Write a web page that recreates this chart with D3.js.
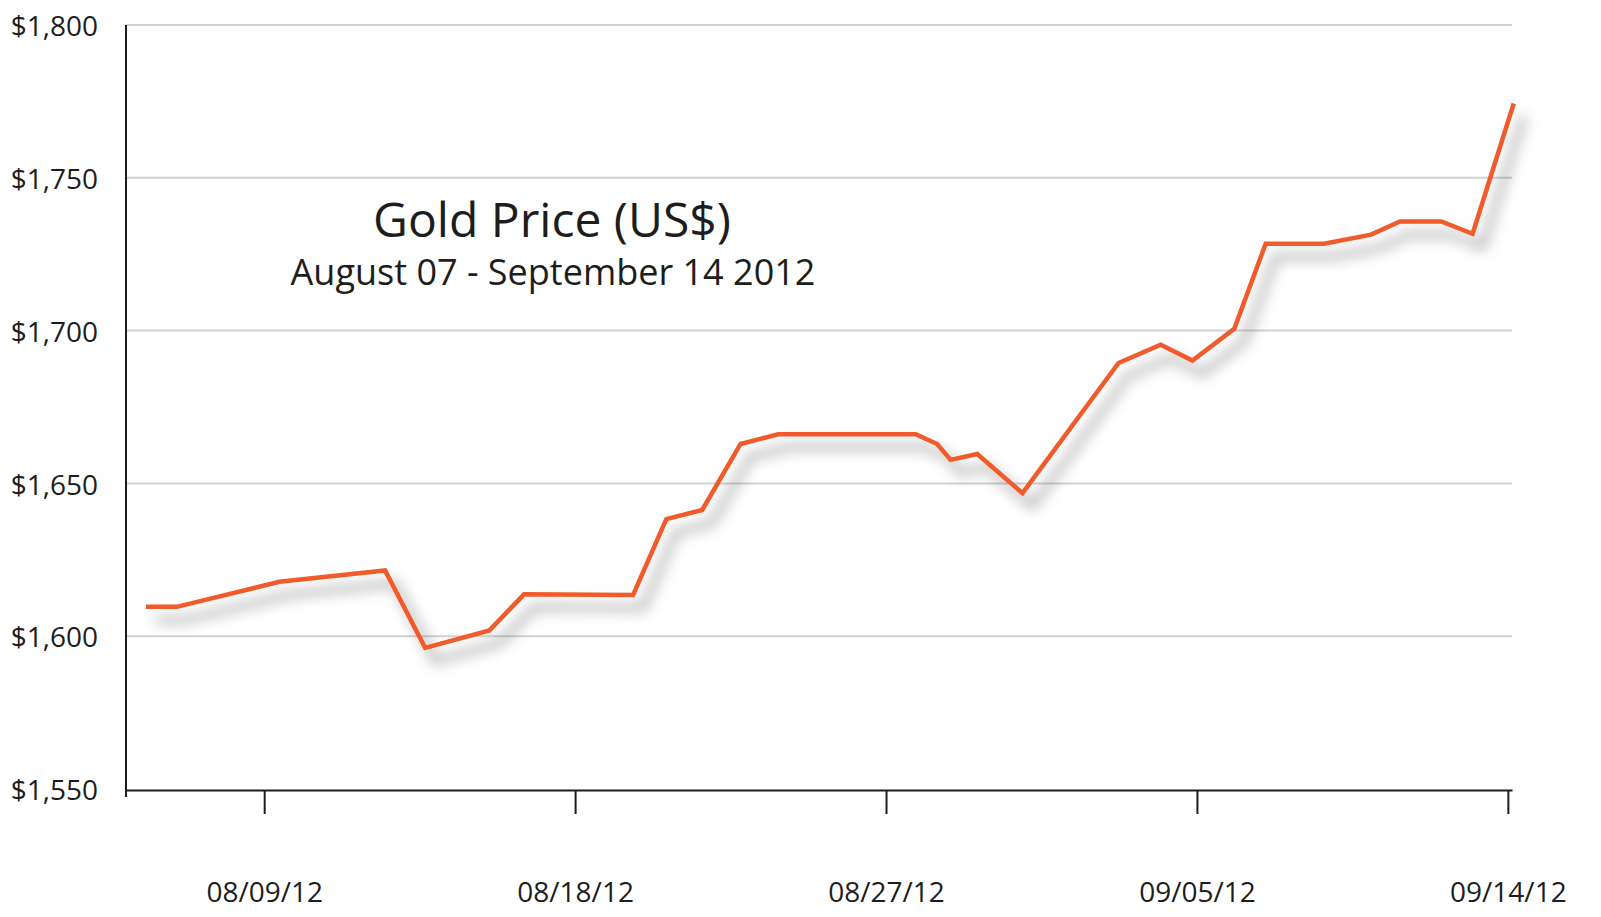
<!DOCTYPE html>
<html>
<head>
<meta charset="utf-8">
<script src="https://cdn.jsdelivr.net/npm/d3@7"></script>
<style>
  html, body { margin: 0; padding: 0; background: #ffffff; }
  svg { display: block; font-family: "Open Sans", "Noto Sans", sans-serif; }
</style>
</head>
<body>
<svg id="chart" width="1601" height="917"></svg>
<script>
// ---- Data ----
// x position of each point, expressed in days counted from 2012-08-00 (Sep days = 31 + day)
const dayNum = [5.58, 6.47, 9.44, 12.50, 13.66, 15.52, 16.52, 19.68, 20.64, 21.68,
                22.79, 23.88, 27.86, 28.48, 28.87, 29.64, 30.95, 33.73, 34.95, 35.87,
                37.08, 37.99, 39.68, 41.04, 41.88, 43.07, 43.98, 45.17];
const price  = [1609.6, 1609.6, 1617.8, 1621.5, 1596.2, 1601.9, 1613.7, 1613.5, 1638.3, 1641.3,
                1662.9, 1666.1, 1666.1, 1662.9, 1657.7, 1659.6, 1646.8, 1689.4, 1695.4, 1690.2,
                1700.6, 1728.4, 1728.4, 1731.4, 1735.7, 1735.7, 1731.7, 1774.3];
const xTickValues = [9, 18, 27, 36, 45];
const xTickLabels = ["08/09/12", "08/18/12", "08/27/12", "09/05/12", "09/14/12"];
const yTickValues = [1550, 1600, 1650, 1700, 1750, 1800];
const yTickLabels = ["$1,550", "$1,600", "$1,650", "$1,700", "$1,750", "$1,800"];
const titleText = "Gold Price (US$)";
const subtitleText = "August 07 - September 14 2012";

// ---- Layout ----
const svg = d3.select("#chart");
const plotLeft = 126, plotRight = 1512, plotTop = 25, plotBottom = 789;
const ink = "#1d1d1b";

const x = d3.scaleLinear().domain([5, 45.12]).range([plotLeft, plotRight]);
const y = d3.scaleLinear().domain([1550, 1800]).range([plotBottom, plotTop]);

// drop shadow filter
const defs = svg.append("defs");
const f = defs.append("filter").attr("id", "shadow")
  .attr("x", "-10%").attr("y", "-20%").attr("width", "130%").attr("height", "150%");
f.append("feDropShadow").attr("dx", 10).attr("dy", 13).attr("stdDeviation", 7)
  .attr("flood-color", "#000").attr("flood-opacity", 0.45);

// gridlines
svg.append("g").selectAll("line")
  .data(yTickValues.filter(v => v > 1550))
  .join("line")
  .attr("x1", plotLeft).attr("x2", plotRight)
  .attr("y1", d => y(d)).attr("y2", d => y(d))
  .attr("stroke", "#d2d2d2").attr("stroke-width", 2);

// y axis labels
const yAxis = d3.axisLeft(y).tickValues(yTickValues)
  .tickFormat((d, i) => yTickLabels[i]).tickSize(0).tickPadding(28);
const gy = svg.append("g").attr("transform", `translate(${plotLeft},0)`).call(yAxis);
gy.select(".domain").remove();
gy.selectAll("text").attr("font-size", 28).attr("fill", ink)
  .attr("font-family", '"Open Sans", sans-serif').attr("dy", "0.38em");

// y axis line (extends a bit below x axis)
svg.append("line")
  .attr("x1", plotLeft).attr("x2", plotLeft)
  .attr("y1", y(1800)).attr("y2", y(1550) + 8)
  .attr("stroke", ink).attr("stroke-width", 2);

// x axis
const xAxis = d3.axisBottom(x).tickValues(xTickValues)
  .tickFormat((d, i) => xTickLabels[i]).tickSize(24).tickSizeOuter(0);
const gx = svg.append("g").attr("transform", `translate(0,${plotBottom + 1})`).call(xAxis);
gx.select(".domain").attr("stroke", ink).attr("stroke-width", 2);
gx.selectAll(".tick line").attr("stroke", ink).attr("stroke-width", 2);
gx.selectAll("text").attr("font-size", 28).attr("fill", ink)
  .attr("font-family", '"Open Sans", sans-serif').attr("y", 112).attr("dy", 0);

// line
const line = d3.line().x((d, i) => x(dayNum[i])).y(d => y(d));
svg.append("path")
  .datum(price)
  .attr("d", line)
  .attr("fill", "none")
  .attr("stroke", "#f15a29")
  .attr("stroke-width", 4.5)
  .attr("stroke-linejoin", "miter")
  .attr("filter", "url(#shadow)");

// title
svg.append("text").text(titleText)
  .attr("x", 552).attr("y", 237).attr("text-anchor", "middle")
  .attr("font-size", 48).attr("fill", ink);
svg.append("text").text(subtitleText)
  .attr("x", 553).attr("y", 285).attr("text-anchor", "middle")
  .attr("font-size", 36).attr("fill", ink);
</script>
</body>
</html>
